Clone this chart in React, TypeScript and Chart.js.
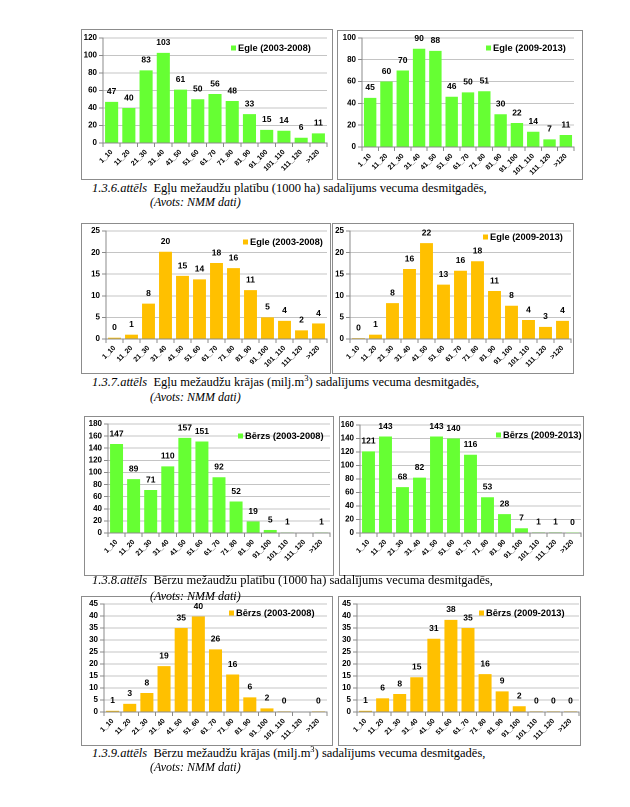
import React, { useEffect, useRef } from "react";
import { Chart, registerables } from "chart.js";

Chart.register(...registerables);

// ---------- DATA ----------
const categories = ["1_10", "11_20", "21_30", "31_40", "41_50", "51_60", "61_70", "71_80", "81_90", "91_100", "101_110", "111_120", ">120"];

const eglePlatiba0308 = [47, 40, 83, 103, 61, 50, 56, 48, 33, 15, 14, 6, 11];
const eglePlatiba0913 = [45, 60, 70, 90, 88, 46, 50, 51, 30, 22, 14, 7, 11];
const egleKraja0308 = [0.3, 1, 8.2, 20.2, 14.6, 13.8, 17.6, 16.4, 11.3, 5, 4.2, 2, 3.6];
const egleKraja0913 = [0.2, 1, 8.3, 16.2, 22.2, 12.6, 15.8, 18, 11.1, 7.7, 4.4, 2.8, 4.2];
const berzsPlatiba0308 = [147, 89, 71, 110, 157, 151, 92, 52, 19, 5, 1, null, 1];
const berzsPlatiba0913 = [121, 143, 68, 82, 143, 140, 116, 53, 28, 7, 1, 1, 0.4];
const berzsKraja0308 = [0.5, 3.4, 7.9, 19.1, 35, 39.8, 26.1, 15.6, 6.1, 1.5, 0.3, null, 0.3];
const berzsKraja0913 = [0.5, 5.7, 7.5, 14.5, 30.5, 38.4, 35, 15.8, 8.6, 2.4, 0.3, 0.3, 0.3];

const seriesNames = ["Egle (2003-2008)", "Egle (2009-2013)", "Bērzs (2003-2008)", "Bērzs (2009-2013)"];
const yMax = [120, 100, 25, 25, 180, 160, 45, 45];
const yStep = [20, 20, 5, 5, 20, 20, 5, 5];

const captionTitles = ["1.3.6.attēls", "1.3.7.attēls", "1.3.8.attēls", "1.3.9.attēls"];
const captionTexts = [
  ["Egļu mežaudžu platību (1000 ha) sadalījums vecuma desmitgadēs,", null],
  ["Egļu mežaudžu krājas (milj.m", "3", ") sadalījums vecuma desmitgadēs,"],
  ["Bērzu mežaudžu platību (1000 ha) sadalījums vecuma desmitgadēs,", null],
  ["Bērzu mežaudžu krājas (milj.m", "3", ") sadalījums vecuma desmitgadēs,"],
];
const sourceText = "(Avots: NMM dati)";

const GREEN = "#66FF33";
const GOLD = "#FFC000";

// ---------- LAYOUT (page coords) ----------
type Cfg = {
  values: (number | null)[];
  name: string;
  color: string;
  max: number;
  step: number;
  box: [number, number, number, number]; // l, t, r, b
  plot: [number, number, number, number]; // axisX, topY, rightX, zeroY
  legend: [number, number];
};

const charts: Cfg[] = [
  { values: eglePlatiba0308, name: seriesNames[0], color: GREEN, max: yMax[0], step: yStep[0], box: [81, 29, 332, 179], plot: [103, 38, 327, 143], legend: [231, 48] },
  { values: eglePlatiba0913, name: seriesNames[1], color: GREEN, max: yMax[1], step: yStep[1], box: [337, 30, 582, 179], plot: [362, 37, 574, 147], legend: [486, 48] },
  { values: egleKraja0308, name: seriesNames[0], color: GOLD, max: yMax[2], step: yStep[2], box: [81, 223, 330, 373], plot: [106, 231, 327, 339], legend: [243, 242] },
  { values: egleKraja0913, name: seriesNames[1], color: GOLD, max: yMax[3], step: yStep[3], box: [332, 223, 573, 373], plot: [350, 231, 571, 339], legend: [483, 237] },
  { values: berzsPlatiba0308, name: seriesNames[2], color: GREEN, max: yMax[4], step: yStep[4], box: [84, 416, 333, 575], plot: [108, 424, 330, 533], legend: [238, 436] },
  { values: berzsPlatiba0913, name: seriesNames[3], color: GREEN, max: yMax[5], step: yStep[5], box: [339, 416, 583, 575], plot: [360, 425, 581, 533], legend: [496, 435] },
  { values: berzsKraja0308, name: seriesNames[2], color: GOLD, max: yMax[6], step: yStep[6], box: [81, 596, 332, 745], plot: [104, 604, 327, 712], legend: [229, 613] },
  { values: berzsKraja0913, name: seriesNames[3], color: GOLD, max: yMax[7], step: yStep[7], box: [338, 596, 580, 745], plot: [357, 604, 579, 712], legend: [479, 613] },
];

const captionPos = [
  [188, 202],
  [382, 397],
  [580, 596],
  [753, 767],
];

const FONT = "'Liberation Sans', Arial, sans-serif";

function BarBox({ cfg }: { cfg: Cfg }) {
  const ref = useRef<HTMLCanvasElement | null>(null);
  const [l, t, r, b] = cfg.box;
  const innerW = r - l - 1;
  const innerH = b - t - 1;
  const ox = l + 1;
  const oy = t + 1;

  useEffect(() => {
    if (!ref.current) return;
    const [ax, top, right, zero] = cfg.plot;
    const labelsPlugin = {
      id: "valueLabels",
      afterDatasetsDraw(chart: any) {
        const ctx = chart.ctx;
        const meta = chart.getDatasetMeta(0);
        ctx.save();
        ctx.font = `bold 8.5px ${FONT}`;
        ctx.fillStyle = "#000";
        ctx.textAlign = "center";
        ctx.textBaseline = "middle";
        meta.data.forEach((bar: any, i: number) => {
          const v = cfg.values[i];
          if (v === null || v === undefined) return;
          ctx.fillText(String(Math.round(v)), bar.x, bar.y - 10);
        });
        ctx.restore();
      },
    };
    const legendPlugin = {
      id: "insideLegend",
      afterDraw(chart: any) {
        const ctx = chart.ctx;
        const x = cfg.legend[0] - ox;
        const y = cfg.legend[1] - oy;
        ctx.save();
        ctx.fillStyle = cfg.color;
        ctx.fillRect(x, y - 2.5, 5, 5);
        ctx.font = `bold 9.3px ${FONT}`;
        ctx.fillStyle = "#000";
        ctx.textAlign = "left";
        ctx.textBaseline = "middle";
        ctx.fillText(cfg.name, x + 7, y + 0.5);
        ctx.restore();
      },
    };
    const chart = new Chart(ref.current, {
      type: "bar",
      data: {
        labels: categories,
        datasets: [
          {
            label: cfg.name,
            data: cfg.values as any,
            backgroundColor: cfg.color,
            borderWidth: 0,
            barPercentage: 0.76,
            categoryPercentage: 1,
          },
        ],
      },
      options: {
        responsive: false,
        animation: false,
        devicePixelRatio: 2,
        layout: {
          padding: { left: 0, top: top - oy, right: ox + innerW - right, bottom: 0 },
        },
        plugins: {
          legend: { display: false },
          tooltip: { enabled: false },
          title: { display: false },
        },
        scales: {
          x: {
            offset: true,
            grid: {
              offset: true,
              drawOnChartArea: false,
              drawTicks: true,
              tickLength: 4,
              color: "#8a8a8a",
            },
            border: { color: "#8a8a8a" },
            ticks: {
              autoSkip: false,
              minRotation: 45,
              maxRotation: 45,
              padding: 1,
              color: "#000",
              font: { family: FONT, size: 7, weight: "bold" },
            },
            afterFit(scale: any) {
              scale.height = oy + innerH - zero;
            },
          },
          y: {
            min: 0,
            max: cfg.max,
            ticks: {
              stepSize: cfg.step,
              autoSkip: false,
              padding: 2,
              color: "#000",
              font: { family: FONT, size: 8, weight: "bold" },
            },
            grid: {
              color: "#c4c4c4",
              tickLength: 4,
              tickColor: "#8a8a8a",
            },
            border: { color: "#8a8a8a" },
            afterFit(scale: any) {
              scale.width = ax - ox;
            },
          },
        },
      },
      plugins: [labelsPlugin, legendPlugin],
    });
    return () => chart.destroy();
  }, []);

  return (
    <div
      style={{
        position: "absolute",
        left: l,
        top: t,
        width: innerW,
        height: innerH,
        border: "1px solid #8c8c8c",
        background: "#fff",
      }}
    >
      <canvas ref={ref} style={{ width: innerW, height: innerH, display: "block" }} width={innerW} height={innerH} />
    </div>
  );
}

function Caption({ idx }: { idx: number }) {
  const [y1, y2] = captionPos[idx];
  const parts = captionTexts[idx];
  return (
    <>
      <div
        style={{
          position: "absolute",
          left: 92,
          top: y1 - 8,
          height: 16,
          lineHeight: "16px",
          fontFamily: "'Liberation Serif', 'Times New Roman', serif",
          fontSize: 12.5,
          whiteSpace: "pre",
          color: "#000",
        }}
      >
        <i>{captionTitles[idx]}</i>
        {"  "}
        {parts[0]}
        {parts[1] ? (
          <span style={{ position: "relative", top: -5, fontSize: 8.5 }}>{parts[1]}</span>
        ) : null}
        {parts[2] ? parts[2] : null}
      </div>
      <div
        style={{
          position: "absolute",
          left: 150,
          top: y2 - 8,
          height: 16,
          lineHeight: "16px",
          fontFamily: "'Liberation Serif', 'Times New Roman', serif",
          fontSize: 12,
          fontStyle: "italic",
          whiteSpace: "pre",
          color: "#000",
        }}
      >
        {sourceText}
      </div>
    </>
  );
}

export default function App() {
  return (
    <div style={{ position: "absolute", left: 0, top: 0, width: 630, height: 807, background: "#fff" }}>
      {charts.map((c, i) => (
        <BarBox key={i} cfg={c} />
      ))}
      {[0, 1, 2, 3].map((i) => (
        <Caption key={i} idx={i} />
      ))}
    </div>
  );
}
